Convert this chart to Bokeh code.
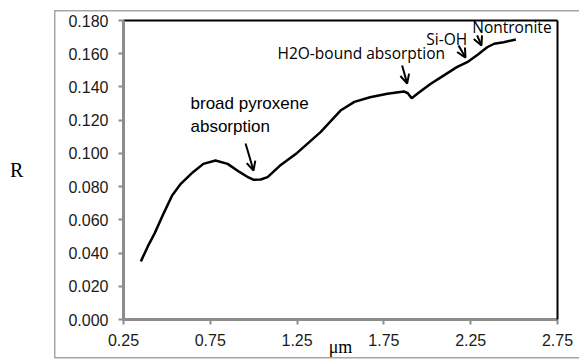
from bokeh.plotting import figure
from bokeh.models import (Range1d, FixedTicker, NumeralTickFormatter, Label, Arrow,
                          OpenHead, ColumnDataSource, LinearAxis)
from bokeh.embed import file_html
from bokeh.resources import INLINE

# Spectrum (wavelength in um, reflectance R)
wavelength = [0.35, 0.39, 0.43, 0.48, 0.53, 0.58, 0.65, 0.71, 0.78, 0.85, 0.92, 0.97,
              1.00, 1.04, 1.08, 1.15, 1.25, 1.385, 1.50, 1.58, 1.67, 1.77, 1.865,
              1.888, 1.91, 1.95, 2.02, 2.08, 2.17, 2.23, 2.29, 2.345, 2.385, 2.44, 2.51]
reflectance = [0.035, 0.044, 0.052, 0.0636, 0.0747, 0.0817, 0.0887, 0.0937, 0.0957,
               0.0937, 0.0887, 0.0855, 0.0841, 0.0843, 0.0857, 0.0925, 0.1003, 0.1128,
               0.1258, 0.1310, 0.1338, 0.1359, 0.1373, 0.1362, 0.1332, 0.1365, 0.1419,
               0.1459, 0.1519, 0.1549, 0.1594, 0.1639, 0.1660, 0.1669, 0.1686]

x_ticks = [0.25, 0.75, 1.25, 1.75, 2.25, 2.75]
y_ticks = [0.0, 0.02, 0.04, 0.06, 0.08, 0.10, 0.12, 0.14, 0.16, 0.18]

ann_texts = ["broad pyroxene", "absorption", "H2O-bound absorption", "Si-OH", "Nontronite"]
ann_tx = [0.636, 0.636, 1.137, 1.994, 2.259]
ann_ty = [0.1300, 0.1162, 0.1607, 0.1686, 0.1758]
ann_font = ["Liberation Sans", "Liberation Sans", "Open Sans", "Open Sans", "Open Sans"]
ann_size = ["17px", "17px", "15.5px", "15.5px", "15.5px"]
arrow_x0 = [0.953, 1.855, 2.180, 2.287]
arrow_y0 = [0.1060, 0.1529, 0.1650, 0.1710]
arrow_x1 = [0.999, 1.884, 2.220, 2.312]
arrow_y1 = [0.0897, 0.1421, 0.1577, 0.1650]

GREY = "#8c8c8c"
BOX = "#a6a6a6"

p = figure(width=579, height=362, output_backend="svg", toolbar_location=None,
           title=None,
           x_range=Range1d(0.25, 2.75), y_range=Range1d(0.0, 0.18),
           min_border_left=123, min_border_right=22, min_border_top=20,
           min_border_bottom=43)
p.grid.visible = False
p.outline_line_color = None
p.border_fill_color = None
p.background_fill_color = "white"

# outer chart-area border (light grey, open on the right as in the reference)
line_img = "linear-gradient(%s, %s)" % (BOX, BOX)
p.styles = {
    "background": ", ".join([
        line_img + " 54px 10px / 1.5px 348px no-repeat",
        line_img + " 54px 10px / 530px 1.5px no-repeat",
        line_img + " 54px 357px / 530px 1.5px no-repeat",
    ]),
}

src = ColumnDataSource(dict(x=wavelength, y=reflectance))
p.line("x", "y", source=src, line_color="black", line_width=2.5)

for ax in (p.xaxis[0], p.yaxis[0]):
    ax.axis_line_color = GREY
    ax.axis_line_width = 3
    ax.major_tick_line_color = GREY
    ax.major_tick_line_width = 2
    ax.major_tick_in = 0
    ax.major_tick_out = 5
    ax.minor_tick_line_color = None
    ax.major_label_text_font = "Liberation Sans"
    ax.major_label_text_font_size = "16px"
    ax.major_label_text_color = "#1a1a1a"
    ax.axis_label_text_font = "Liberation Serif"
    ax.axis_label_text_font_style = "normal"
    ax.axis_label_text_color = "black"

p.xaxis.ticker = FixedTicker(ticks=x_ticks)
p.yaxis.ticker = FixedTicker(ticks=y_ticks)
p.xaxis.formatter = NumeralTickFormatter(format="0.00")
p.yaxis.formatter = NumeralTickFormatter(format="0.000")
p.xaxis.major_label_standoff = 9
p.yaxis.major_label_standoff = 10

p.yaxis.axis_label = "R"
p.yaxis.axis_label_orientation = "horizontal"
p.yaxis.axis_label_text_font_size = "20px"
p.yaxis.axis_label_standoff = 42
p.xaxis.axis_label = "μm"
p.xaxis.axis_label_text_font_size = "18px"
p.xaxis.axis_label_standoff = -12

# black top and right edges of the plot frame
for side in ("above", "right"):
    edge = LinearAxis(ticker=FixedTicker(ticks=[]), axis_line_color="black",
                      axis_line_width=2, major_tick_line_color=None,
                      minor_tick_line_color=None)
    p.add_layout(edge, side)

for t, x, y, f, s in zip(ann_texts, ann_tx, ann_ty, ann_font, ann_size):
    p.add_layout(Label(x=x, y=y, text=t, text_font=f, text_font_size=s,
                       text_align="left", text_baseline="middle", text_color="black"))

for x0, y0, x1, y1 in zip(arrow_x0, arrow_y0, arrow_x1, arrow_y1):
    p.add_layout(Arrow(x_start=x0, y_start=y0, x_end=x1, y_end=y1,
                       line_color="black", line_width=2,
                       end=OpenHead(size=9, line_width=2, line_color="black")))

open("out.html", "w").write(file_html(p, INLINE))
